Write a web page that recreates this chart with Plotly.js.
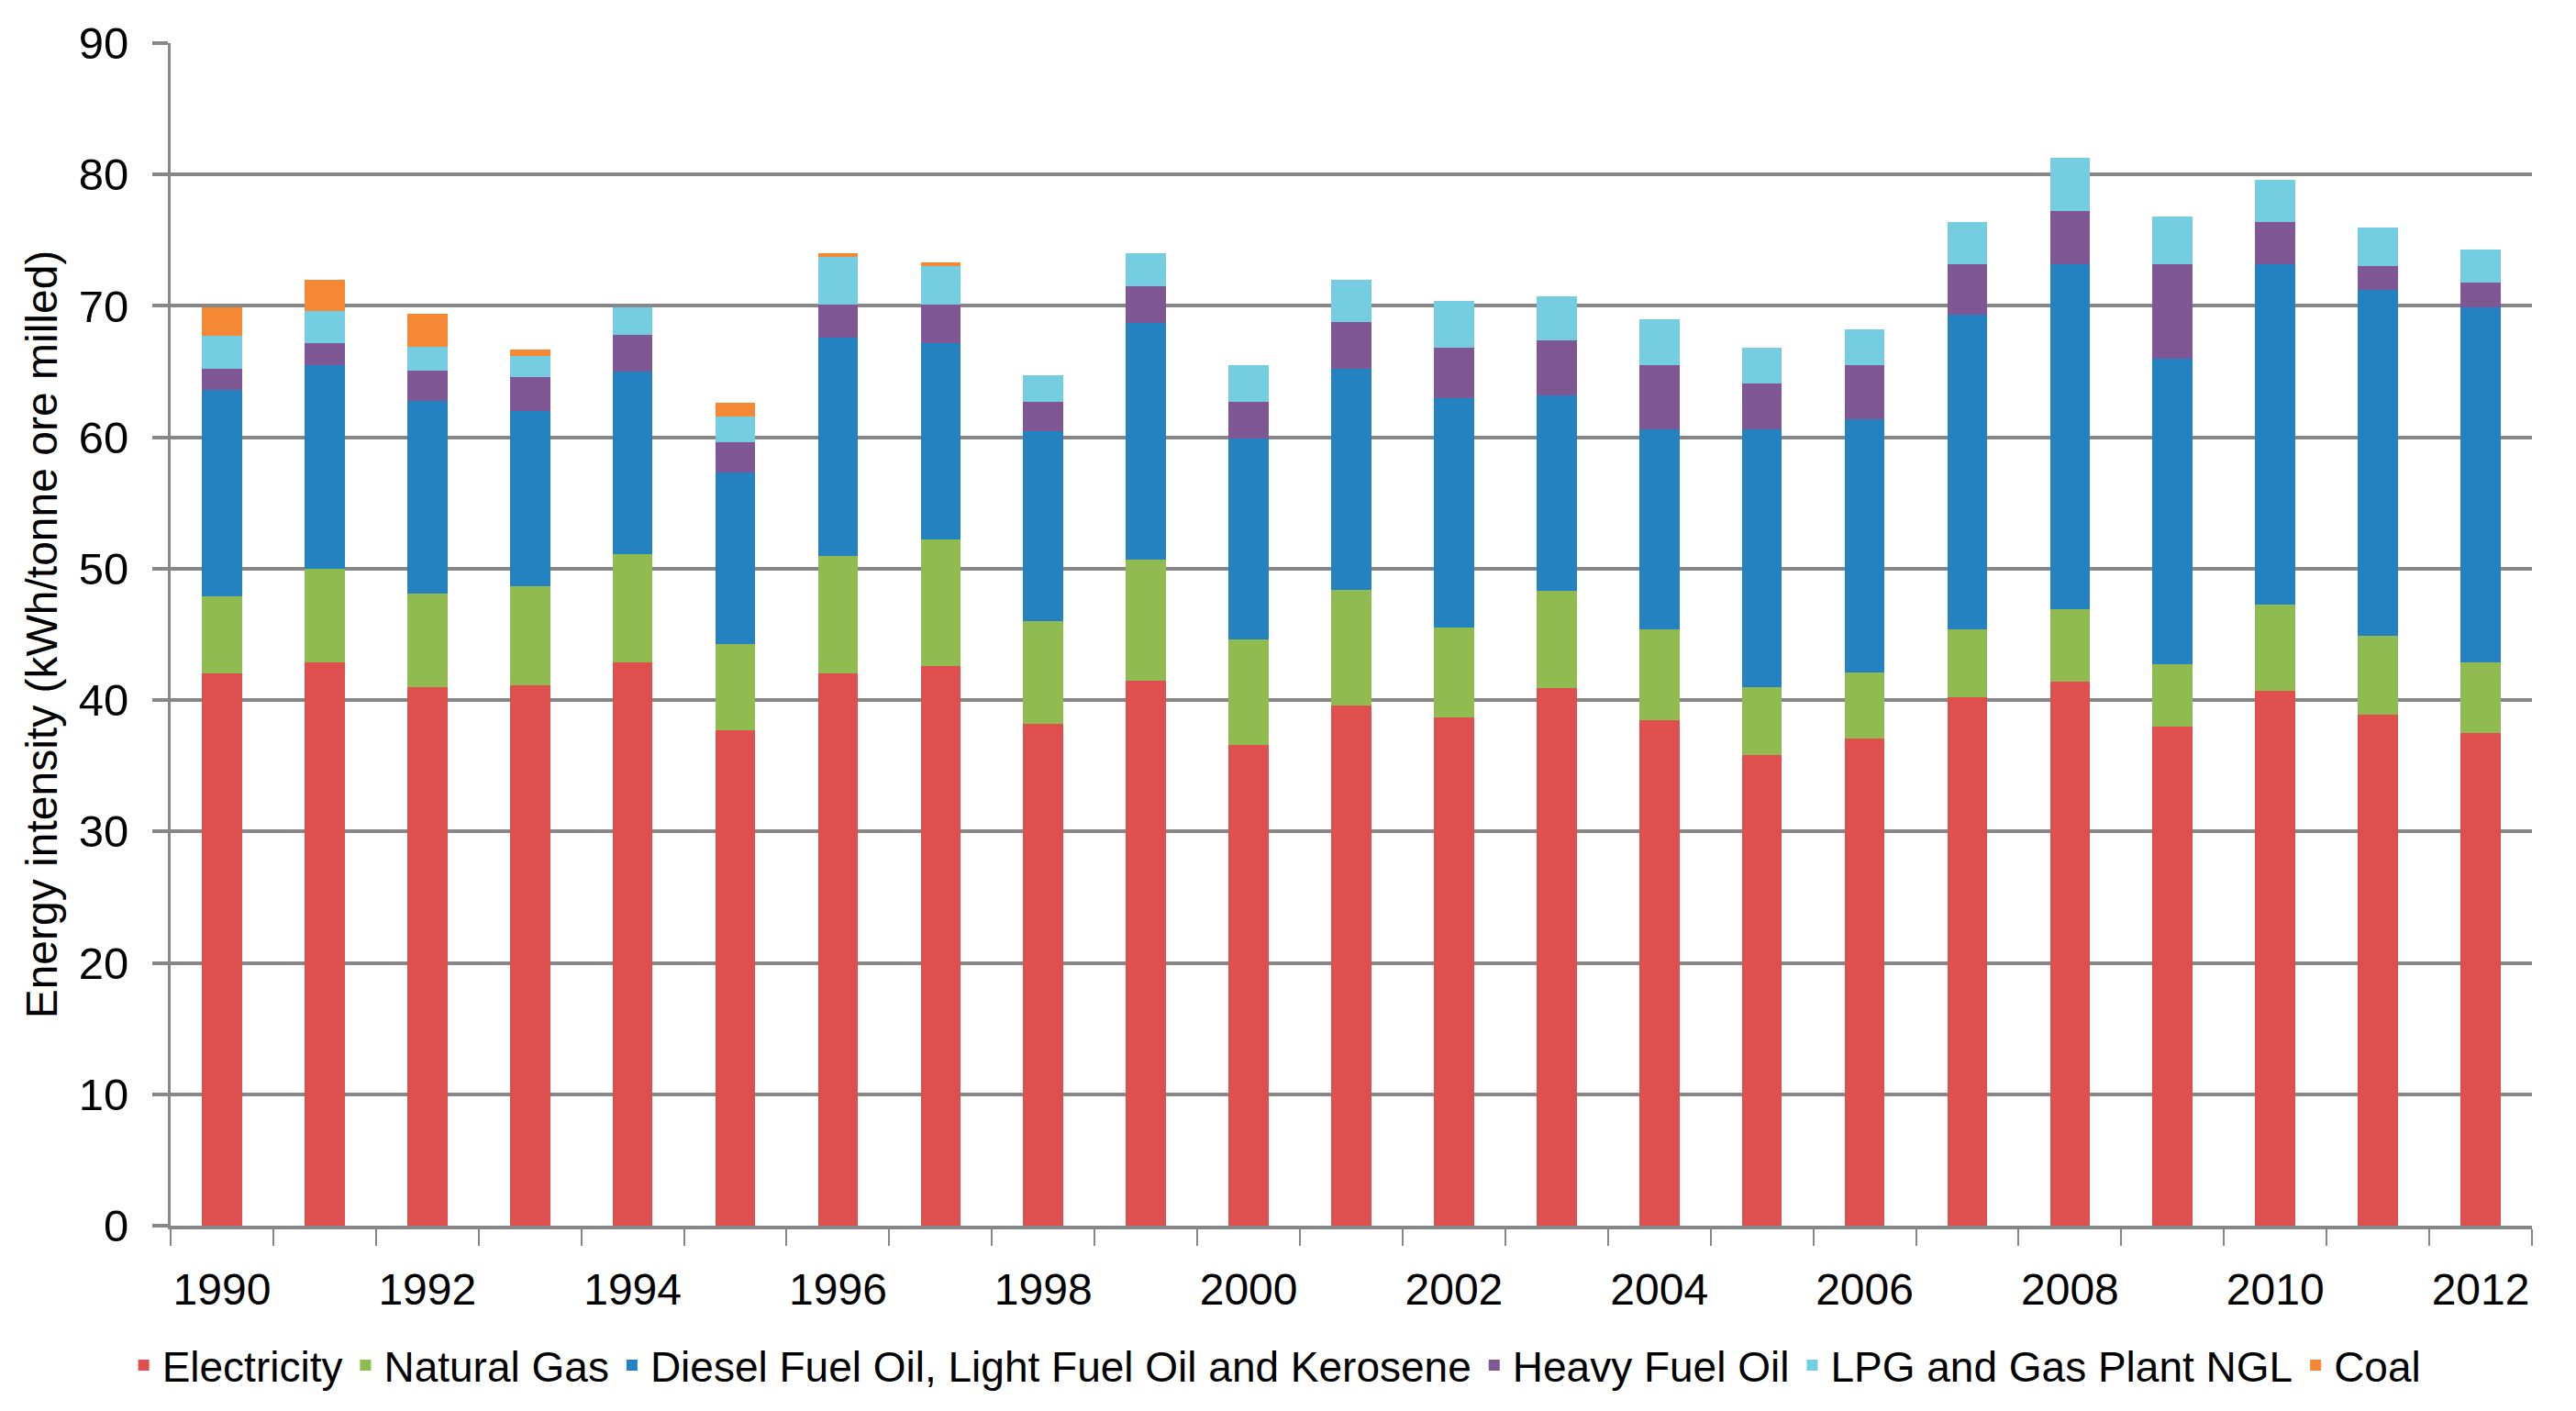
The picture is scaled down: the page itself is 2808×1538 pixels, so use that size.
<!DOCTYPE html>
<html>
<head>
<meta charset="utf-8">
<script src="https://cdn.plot.ly/plotly-3.0.1.min.js"></script>
<style>
  html, body { margin: 0; padding: 0; background: #fff; }
  #chart { width: 2808px; height: 1538px; }
</style>
</head>
<body>
<div id="chart"></div>
<script>
// energy intensity by source, kWh per tonne ore milled
const years = [1990, 1991, 1992, 1993, 1994, 1995, 1996, 1997, 1998, 1999, 2000, 2001,
               2002, 2003, 2004, 2005, 2006, 2007, 2008, 2009, 2010, 2011, 2012];

const electricity  = [42.0, 42.9, 41.0, 41.1, 42.9, 37.7, 42.0, 42.6, 38.2, 41.5, 36.6, 39.6,
                      38.7, 40.9, 38.5, 35.8, 37.1, 40.2, 41.4, 38.0, 40.7, 38.9, 37.5];
const naturalGas   = [5.9, 7.1, 7.1, 7.6, 8.2, 6.6, 9.0, 9.6, 7.8, 9.2, 8.0, 8.8,
                      6.8, 7.4, 6.9, 5.2, 5.0, 5.2, 5.5, 4.7, 6.6, 6.0, 5.4];
const diesel       = [15.7, 15.5, 14.7, 13.3, 13.9, 13.0, 16.6, 15.0, 14.5, 18.0, 15.3, 16.8,
                      17.5, 14.9, 15.2, 19.6, 19.3, 23.9, 26.3, 23.3, 25.9, 26.3, 27.0];
const heavyFuelOil = [1.6, 1.7, 2.3, 2.6, 2.8, 2.3, 2.5, 2.9, 2.2, 2.8, 2.8, 3.6,
                      3.8, 4.2, 4.9, 3.5, 4.1, 3.9, 4.0, 7.2, 3.2, 1.8, 1.9];
const lpg          = [2.5, 2.4, 1.8, 1.6, 2.1, 2.0, 3.6, 2.9, 2.0, 2.5, 2.8, 3.2,
                      3.6, 3.3, 3.5, 2.7, 2.7, 3.2, 4.1, 3.6, 3.2, 3.0, 2.5];
const coal         = [2.2, 2.4, 2.5, 0.5, 0, 1.0, 0.3, 0.3, 0, 0, 0, 0,
                      0, 0, 0, 0, 0, 0, 0, 0, 0, 0, 0];

const seriesNames = ['Electricity', 'Natural Gas', 'Diesel Fuel Oil, Light Fuel Oil and Kerosene',
                     'Heavy Fuel Oil', 'LPG and Gas Plant NGL', 'Coal'];
const seriesValues = [electricity, naturalGas, diesel, heavyFuelOil, lpg, coal];
const seriesColors = ['#df4f4e', '#8fbb50', '#2482c1', '#7e5794', '#74cde0', '#f48835'];

const font = 'Liberation Sans, Arial, sans-serif';
const gridGray = '#878787';

const traces = seriesNames.map((name, i) => ({
    type: 'bar',
    name: name,
    x: years,
    y: seriesValues[i],
    marker: { color: seriesColors[i], line: { width: 0 } },
    hoverinfo: 'skip'
}));

const layout = {
    width: 2808,
    height: 1538,
    margin: { l: 186, r: 48, t: 47, b: 202 },
    paper_bgcolor: '#fff',
    plot_bgcolor: '#fff',
    barmode: 'stack',
    bargap: 0.61,
    font: { family: font, size: 46, color: '#000' },
    showlegend: true,
    legend: {
        orientation: 'h',
        x: 0.468,
        xanchor: 'center',
        y: -0.118,
        yanchor: 'middle',
        font: { family: font, size: 46, color: '#000' },
        traceorder: 'normal',
        itemwidth: 30
    },
    xaxis: {
        range: [1989.5, 2012.5],
        tickmode: 'linear',
        tick0: 1990,
        dtick: 2,
        ticks: '',
        ticklabelstandoff: 24,
        showgrid: false,
        zeroline: false,
        showline: true,
        linecolor: gridGray,
        linewidth: 4,
        tickfont: { family: font, size: 48, color: '#000' },
        minor: {
            tickmode: 'linear',
            tick0: 1989.5,
            dtick: 1,
            ticks: 'outside',
            ticklen: 18,
            tickwidth: 2,
            tickcolor: gridGray,
            showgrid: false
        },
        fixedrange: true
    },
    yaxis: {
        range: [0, 90],
        tickmode: 'linear',
        tick0: 0,
        dtick: 10,
        ticks: 'outside',
        ticklen: 17,
        tickwidth: 4,
        tickcolor: gridGray,
        showgrid: true,
        gridcolor: gridGray,
        gridwidth: 4,
        zeroline: false,
        showline: true,
        linecolor: gridGray,
        linewidth: 3,
        ticklabelstandoff: 16,
        tickfont: { family: font, size: 49, color: '#000' },
        title: {
            text: 'Energy intensity (kWh/tonne ore milled)',
            font: { family: font, size: 48, color: '#000' },
            standoff: 8
        },
        fixedrange: true
    }
};

Plotly.newPlot('chart', traces, layout, { displayModeBar: false, staticPlot: true });
</script>
</body>
</html>
